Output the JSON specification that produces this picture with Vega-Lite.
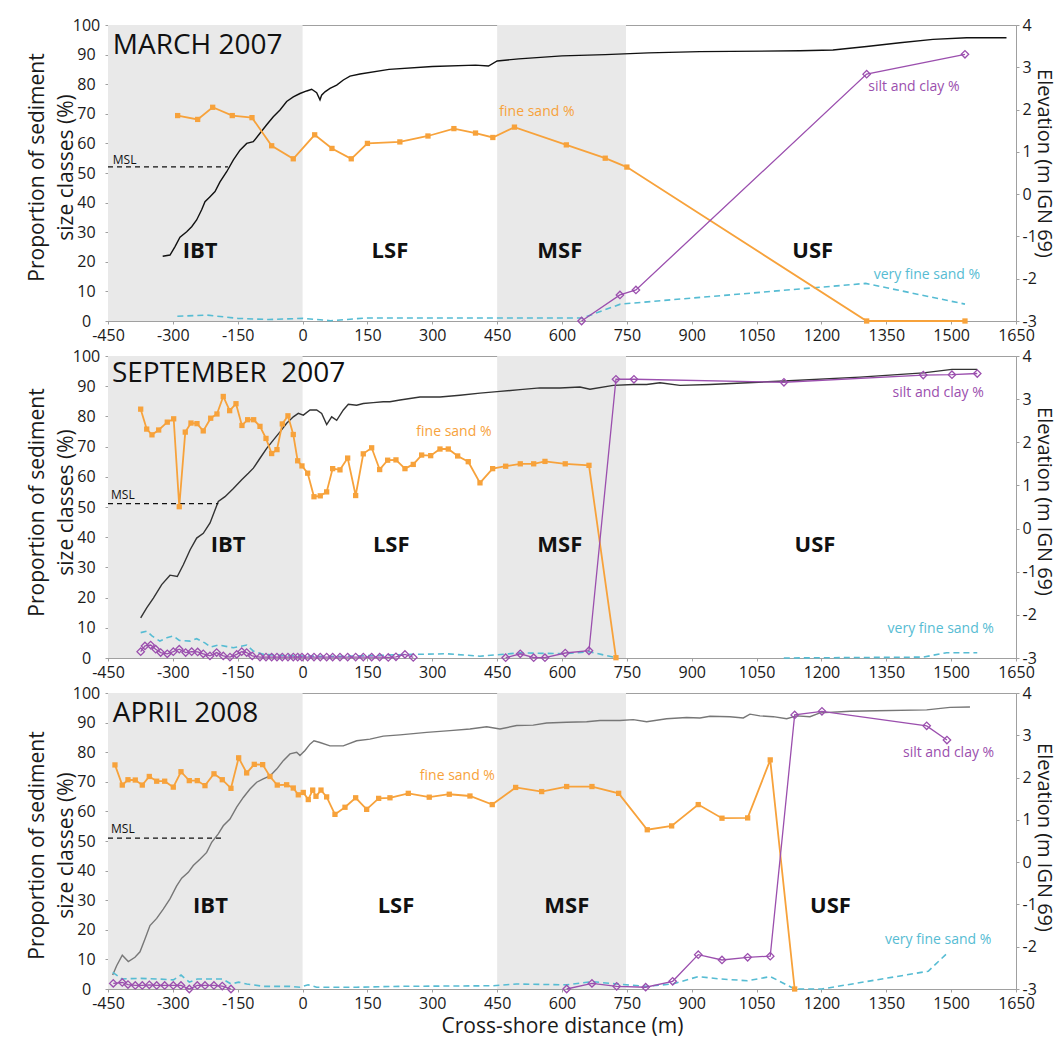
{
"$schema": "https://vega.github.io/schema/vega-lite/v6.json",
"padding": {"left": 25, "top": 16, "right": 0, "bottom": 0},
"bounds": "flush",
"spacing": 35,
"config": {
  "font": "Open Sans",
  "view": {"stroke": "#a0a0a0", "strokeWidth": 1},
  "axis": {"labelFont": "Open Sans", "labelFontSize": 16, "labelColor": "#1a1a1a", "titleFont": "Open Sans", "titleFontSize": 21, "titleFontWeight": "normal", "titleColor": "#1a1a1a", "domainColor": "#a0a0a0", "tickColor": "#a0a0a0", "tickSize": 3, "grid": false},
  "text": {"font": "Open Sans"}
},
"datasets": {
  "zones": [{"x": -450, "x2": 0}, {"x": 450, "x2": 748}],
  "msl": [
    {"p": "m", "x": -450, "x2": -172.6, "v": 52.1},
    {"p": "s", "x": -450, "x2": -195, "v": 51.1},
    {"p": "a", "x": -450, "x2": -187, "v": 51.0}
  ],
  "txt": [
    {"p": "m", "k": "date", "x": -439, "v": 93, "t": "MARCH 2007"},
    {"p": "m", "k": "zone", "x": -237, "v": 23.6, "t": "IBT"},
    {"p": "m", "k": "zone", "x": 202, "v": 23.6, "t": "LSF"},
    {"p": "m", "k": "zone", "x": 595, "v": 23.6, "t": "MSF"},
    {"p": "m", "k": "zone", "x": 1180, "v": 23.6, "t": "USF"},
    {"p": "m", "k": "fine", "x": 542, "v": 70.6, "t": "fine sand %"},
    {"p": "m", "k": "silt", "x": 1414, "v": 79.2, "t": "silt and clay %"},
    {"p": "m", "k": "vfine", "x": 1444, "v": 15.5, "t": "very fine sand %"},
    {"p": "m", "k": "msl", "x": -439, "v": 54.5, "t": "MSL"},
    {"p": "s", "k": "date", "x": -441, "v": 93.9, "t": "SEPTEMBER\u00a0 2007"},
    {"p": "s", "k": "zone", "x": -172, "v": 37.3, "t": "IBT"},
    {"p": "s", "k": "zone", "x": 205, "v": 37.3, "t": "LSF"},
    {"p": "s", "k": "zone", "x": 595, "v": 37.3, "t": "MSF"},
    {"p": "s", "k": "zone", "x": 1185, "v": 37.3, "t": "USF"},
    {"p": "s", "k": "fine", "x": 350, "v": 74.9, "t": "fine sand %"},
    {"p": "s", "k": "silt", "x": 1470, "v": 87.8, "t": "silt and clay %"},
    {"p": "s", "k": "vfine", "x": 1476, "v": 9.5, "t": "very fine sand %"},
    {"p": "s", "k": "msl", "x": -443, "v": 54, "t": "MSL"},
    {"p": "a", "k": "date", "x": -439, "v": 92.9, "t": "APRIL 2008"},
    {"p": "a", "k": "zone", "x": -213, "v": 27.9, "t": "IBT"},
    {"p": "a", "k": "zone", "x": 216, "v": 27.9, "t": "LSF"},
    {"p": "a", "k": "zone", "x": 611, "v": 27.9, "t": "MSF"},
    {"p": "a", "k": "zone", "x": 1221, "v": 27.9, "t": "USF"},
    {"p": "a", "k": "fine", "x": 358, "v": 72.1, "t": "fine sand %"},
    {"p": "a", "k": "silt", "x": 1494, "v": 79.7, "t": "silt and clay %"},
    {"p": "a", "k": "vfine", "x": 1470, "v": 16.7, "t": "very fine sand %"},
    {"p": "a", "k": "msl", "x": -443, "v": 54, "t": "MSL"}
  ],
  "elev": [
    {"p":"m","x":-323.5,"e":-1.47},{"p":"m","x":-306.6,"e":-1.44},{"p":"m","x":-295,"e":-1.24},{"p":"m","x":-283.5,"e":-1.02},{"p":"m","x":-268,"e":-0.89},{"p":"m","x":-256.5,"e":-0.77},{"p":"m","x":-245,"e":-0.61},{"p":"m","x":-233.4,"e":-0.37},{"p":"m","x":-225.7,"e":-0.18},{"p":"m","x":-214,"e":-0.06},{"p":"m","x":-202.5,"e":0.06},{"p":"m","x":-191,"e":0.29},{"p":"m","x":-175.5,"e":0.53},{"p":"m","x":-160,"e":0.81},{"p":"m","x":-144.7,"e":1.04},{"p":"m","x":-129.2,"e":1.2},{"p":"m","x":-114,"e":1.24},{"p":"m","x":-98.5,"e":1.44},{"p":"m","x":-83,"e":1.64},{"p":"m","x":-67.7,"e":1.83},{"p":"m","x":-52.2,"e":1.99},{"p":"m","x":-36.8,"e":2.19},{"p":"m","x":-21.4,"e":2.3},{"p":"m","x":-6,"e":2.38},{"p":"m","x":9.5,"e":2.44},{"p":"m","x":21,"e":2.48},{"p":"m","x":32.6,"e":2.4},{"p":"m","x":40.3,"e":2.23},{"p":"m","x":44,"e":2.34},{"p":"m","x":51.8,"e":2.42},{"p":"m","x":63.4,"e":2.5},{"p":"m","x":78.9,"e":2.58},{"p":"m","x":94.3,"e":2.7},{"p":"m","x":109.7,"e":2.79},{"p":"m","x":132.8,"e":2.84},{"p":"m","x":200,"e":2.95},{"p":"m","x":300,"e":3.02},{"p":"m","x":400,"e":3.05},{"p":"m","x":430,"e":3.03},{"p":"m","x":450,"e":3.15},{"p":"m","x":500,"e":3.2},{"p":"m","x":600,"e":3.27},{"p":"m","x":700,"e":3.3},{"p":"m","x":800,"e":3.34},{"p":"m","x":919,"e":3.37},{"p":"m","x":1150,"e":3.39},{"p":"m","x":1226.7,"e":3.41},{"p":"m","x":1304.6,"e":3.49},{"p":"m","x":1381.6,"e":3.58},{"p":"m","x":1458,"e":3.66},{"p":"m","x":1536,"e":3.7},{"p":"m","x":1628,"e":3.7},
    {"p":"s","x":-374.4,"e":-2.07},{"p":"s","x":-360.5,"e":-1.84},{"p":"s","x":-345,"e":-1.61},{"p":"s","x":-325.8,"e":-1.3},{"p":"s","x":-306.6,"e":-1.08},{"p":"s","x":-289.7,"e":-1.11},{"p":"s","x":-275.8,"e":-0.84},{"p":"s","x":-260,"e":-0.49},{"p":"s","x":-244.9,"e":-0.22},{"p":"s","x":-229.6,"e":-0.11},{"p":"s","x":-214,"e":0.13},{"p":"s","x":-194.9,"e":0.63},{"p":"s","x":-179.4,"e":0.74},{"p":"s","x":-160,"e":0.93},{"p":"s","x":-140.8,"e":1.13},{"p":"s","x":-125.4,"e":1.28},{"p":"s","x":-113.8,"e":1.4},{"p":"s","x":-98.5,"e":1.63},{"p":"s","x":-83,"e":1.86},{"p":"s","x":-67.7,"e":2.05},{"p":"s","x":-52.2,"e":2.24},{"p":"s","x":-36.8,"e":2.44},{"p":"s","x":-21.4,"e":2.59},{"p":"s","x":-9.8,"e":2.67},{"p":"s","x":1.7,"e":2.63},{"p":"s","x":17.2,"e":2.75},{"p":"s","x":32.6,"e":2.75},{"p":"s","x":44.2,"e":2.67},{"p":"s","x":55.8,"e":2.41},{"p":"s","x":67.3,"e":2.59},{"p":"s","x":78.9,"e":2.51},{"p":"s","x":94.3,"e":2.75},{"p":"s","x":105.8,"e":2.88},{"p":"s","x":125,"e":2.86},{"p":"s","x":140.4,"e":2.9},{"p":"s","x":163.5,"e":2.92},{"p":"s","x":186.6,"e":2.94},{"p":"s","x":202,"e":2.94},{"p":"s","x":225.3,"e":2.98},{"p":"s","x":271.5,"e":3.05},{"p":"s","x":317.8,"e":3.05},{"p":"s","x":364,"e":3.09},{"p":"s","x":410.3,"e":3.14},{"p":"s","x":456.5,"e":3.18},{"p":"s","x":502.8,"e":3.22},{"p":"s","x":549,"e":3.26},{"p":"s","x":595.3,"e":3.26},{"p":"s","x":641.5,"e":3.28},{"p":"s","x":664.7,"e":3.23},{"p":"s","x":718.6,"e":3.32},{"p":"s","x":764.8,"e":3.34},{"p":"s","x":795.8,"e":3.34},{"p":"s","x":826.6,"e":3.38},{"p":"s","x":872.8,"e":3.32},{"p":"s","x":942.2,"e":3.34},{"p":"s","x":1113.3,"e":3.42},{"p":"s","x":1289,"e":3.51},{"p":"s","x":1435.5,"e":3.61},{"p":"s","x":1501.9,"e":3.69},{"p":"s","x":1560.4,"e":3.69},
    {"p":"a","x":-439.2,"e":-2.67},{"p":"a","x":-430,"e":-2.45},{"p":"a","x":-417,"e":-2.2},{"p":"a","x":-403,"e":-2.35},{"p":"a","x":-387.6,"e":-2.25},{"p":"a","x":-376,"e":-2.12},{"p":"a","x":-364.5,"e":-1.82},{"p":"a","x":-352.9,"e":-1.5},{"p":"a","x":-337.4,"e":-1.33},{"p":"a","x":-322.2,"e":-1.11},{"p":"a","x":-306.7,"e":-0.87},{"p":"a","x":-291.2,"e":-0.56},{"p":"a","x":-279.6,"e":-0.38},{"p":"a","x":-264.3,"e":-0.24},{"p":"a","x":-252.8,"e":-0.08},{"p":"a","x":-237.3,"e":0.07},{"p":"a","x":-221.8,"e":0.23},{"p":"a","x":-210.2,"e":0.47},{"p":"a","x":-195,"e":0.67},{"p":"a","x":-183.4,"e":0.86},{"p":"a","x":-167.9,"e":1.02},{"p":"a","x":-152.4,"e":1.3},{"p":"a","x":-137.1,"e":1.53},{"p":"a","x":-121.6,"e":1.73},{"p":"a","x":-106.1,"e":1.89},{"p":"a","x":-90.9,"e":1.97},{"p":"a","x":-75.4,"e":2.04},{"p":"a","x":-59.9,"e":2.2},{"p":"a","x":-44.6,"e":2.4},{"p":"a","x":-29.1,"e":2.56},{"p":"a","x":-13.6,"e":2.6},{"p":"a","x":-6,"e":2.52},{"p":"a","x":5.6,"e":2.64},{"p":"a","x":17.1,"e":2.79},{"p":"a","x":26.4,"e":2.87},{"p":"a","x":40.2,"e":2.83},{"p":"a","x":63.4,"e":2.75},{"p":"a","x":94.1,"e":2.75},{"p":"a","x":125.1,"e":2.87},{"p":"a","x":155.9,"e":2.91},{"p":"a","x":186.7,"e":2.98},{"p":"a","x":225.3,"e":3.01},{"p":"a","x":287,"e":3.07},{"p":"a","x":340.9,"e":3.11},{"p":"a","x":387.1,"e":3.15},{"p":"a","x":425.8,"e":3.2},{"p":"a","x":456.5,"e":3.15},{"p":"a","x":495.2,"e":3.23},{"p":"a","x":533.5,"e":3.24},{"p":"a","x":564.5,"e":3.29},{"p":"a","x":610.8,"e":3.31},{"p":"a","x":657,"e":3.32},{"p":"a","x":687.8,"e":3.35},{"p":"a","x":734,"e":3.35},{"p":"a","x":764.8,"e":3.37},{"p":"a","x":795.8,"e":3.32},{"p":"a","x":842,"e":3.39},{"p":"a","x":888.3,"e":3.42},{"p":"a","x":919,"e":3.41},{"p":"a","x":942.2,"e":3.45},{"p":"a","x":988.4,"e":3.44},{"p":"a","x":1019.3,"e":3.41},{"p":"a","x":1034.7,"e":3.5},{"p":"a","x":1057.8,"e":3.46},{"p":"a","x":1088.6,"e":3.44},{"p":"a","x":1119.6,"e":3.39},{"p":"a","x":1142.7,"e":3.46},{"p":"a","x":1173.5,"e":3.44},{"p":"a","x":1196.6,"e":3.53},{"p":"a","x":1266,"e":3.57},{"p":"a","x":1327.7,"e":3.58},{"p":"a","x":1443.4,"e":3.6},{"p":"a","x":1497.3,"e":3.66},{"p":"a","x":1543.5,"e":3.67}
  ],
  "pct": [
    {"p":"m","s":"fine","g":1,"x":-288.9,"v":69.4},{"p":"m","s":"fine","g":1,"x":-242.6,"v":68.1},{"p":"m","s":"fine","g":1,"x":-207.9,"v":72.2},{"p":"m","s":"fine","g":1,"x":-162.6,"v":69.4},{"p":"m","s":"fine","g":1,"x":-117,"v":68.7},{"p":"m","s":"fine","g":1,"x":-71.5,"v":59.2},{"p":"m","s":"fine","g":1,"x":-21.5,"v":54.8},{"p":"m","s":"fine","g":1,"x":28,"v":62.9},{"p":"m","s":"fine","g":1,"x":68,"v":58.3},{"p":"m","s":"fine","g":1,"x":112.6,"v":54.8},{"p":"m","s":"fine","g":1,"x":150,"v":60},{"p":"m","s":"fine","g":1,"x":225,"v":60.5},{"p":"m","s":"fine","g":1,"x":290,"v":62.5},{"p":"m","s":"fine","g":1,"x":350,"v":65},{"p":"m","s":"fine","g":1,"x":400,"v":63.5},{"p":"m","s":"fine","g":1,"x":440,"v":62},{"p":"m","s":"fine","g":1,"x":490,"v":65.5},{"p":"m","s":"fine","g":1,"x":610,"v":59.5},{"p":"m","s":"fine","g":1,"x":700,"v":55},{"p":"m","s":"fine","g":1,"x":750,"v":52},{"p":"m","s":"fine","g":1,"x":1304.6,"v":0},{"p":"m","s":"fine","g":1,"x":1532,"v":0},
    {"p":"m","s":"silt","g":1,"x":645.3,"v":0},{"p":"m","s":"silt","g":1,"x":734,"v":8.8},{"p":"m","s":"silt","g":1,"x":771,"v":10.5},{"p":"m","s":"silt","g":1,"x":1304.6,"v":83.4},{"p":"m","s":"silt","g":1,"x":1532,"v":90.1},
    {"p":"m","s":"vfine","g":1,"x":-289.6,"v":1.6},{"p":"m","s":"vfine","g":1,"x":-222,"v":2.0},{"p":"m","s":"vfine","g":1,"x":-150,"v":0.9},{"p":"m","s":"vfine","g":1,"x":-78.6,"v":0.5},{"p":"m","s":"vfine","g":1,"x":1,"v":0.9},{"p":"m","s":"vfine","g":1,"x":64.8,"v":0.1},{"p":"m","s":"vfine","g":1,"x":144.4,"v":1.0},{"p":"m","s":"vfine","g":1,"x":335.6,"v":1.0},{"p":"m","s":"vfine","g":1,"x":542.8,"v":1.0},{"p":"m","s":"vfine","g":1,"x":646.8,"v":1.0},{"p":"m","s":"vfine","g":1,"x":735,"v":5.7},{"p":"m","s":"vfine","g":1,"x":1302.3,"v":12.7},{"p":"m","s":"vfine","g":1,"x":1532,"v":5.7},
    {"p":"s","s":"fine","g":1,"x":-374.4,"v":82.4},{"p":"s","s":"fine","g":1,"x":-360.5,"v":75.8},{"p":"s","s":"fine","g":1,"x":-348.3,"v":73.9},{"p":"s","s":"fine","g":1,"x":-332.8,"v":75.5},{"p":"s","s":"fine","g":1,"x":-312.9,"v":78.1},{"p":"s","s":"fine","g":1,"x":-298.1,"v":79.2},{"p":"s","s":"fine","g":1,"x":-285.2,"v":50.1},{"p":"s","s":"fine","g":1,"x":-271.3,"v":74.8},{"p":"s","s":"fine","g":1,"x":-258.1,"v":77.8},{"p":"s","s":"fine","g":1,"x":-244.2,"v":77.6},{"p":"s","s":"fine","g":1,"x":-229.7,"v":75.2},{"p":"s","s":"fine","g":1,"x":-212.5,"v":79.4},{"p":"s","s":"fine","g":1,"x":-198,"v":80.8},{"p":"s","s":"fine","g":1,"x":-183.4,"v":86.6},{"p":"s","s":"fine","g":1,"x":-168.6,"v":81.9},{"p":"s","s":"fine","g":1,"x":-154,"v":84.2},{"p":"s","s":"fine","g":1,"x":-140.2,"v":77.0},{"p":"s","s":"fine","g":1,"x":-127,"v":78.9},{"p":"s","s":"fine","g":1,"x":-113.1,"v":78.9},{"p":"s","s":"fine","g":1,"x":-98.5,"v":76.7},{"p":"s","s":"fine","g":1,"x":-84.6,"v":72.7},{"p":"s","s":"fine","g":1,"x":-71.5,"v":67.7},{"p":"s","s":"fine","g":1,"x":-59.2,"v":69.0},{"p":"s","s":"fine","g":1,"x":-46.9,"v":77.5},{"p":"s","s":"fine","g":1,"x":-33.8,"v":80.2},{"p":"s","s":"fine","g":1,"x":-21.5,"v":74.0},{"p":"s","s":"fine","g":1,"x":-11.3,"v":65.3},{"p":"s","s":"fine","g":1,"x":-1.4,"v":63.6},{"p":"s","s":"fine","g":1,"x":11.8,"v":61.2},{"p":"s","s":"fine","g":1,"x":26.4,"v":53.4},{"p":"s","s":"fine","g":1,"x":40.9,"v":53.7},{"p":"s","s":"fine","g":1,"x":55.7,"v":55.0},{"p":"s","s":"fine","g":1,"x":69.6,"v":62.7},{"p":"s","s":"fine","g":1,"x":86.5,"v":62.3},{"p":"s","s":"fine","g":1,"x":104.3,"v":66.2},{"p":"s","s":"fine","g":1,"x":122.8,"v":53.8},{"p":"s","s":"fine","g":1,"x":140.4,"v":67.6},{"p":"s","s":"fine","g":1,"x":159.8,"v":69.6},{"p":"s","s":"fine","g":1,"x":178.3,"v":62.4},{"p":"s","s":"fine","g":1,"x":196.8,"v":65.5},{"p":"s","s":"fine","g":1,"x":216,"v":65.6},{"p":"s","s":"fine","g":1,"x":236.8,"v":62.7},{"p":"s","s":"fine","g":1,"x":256,"v":64.1},{"p":"s","s":"fine","g":1,"x":275.4,"v":67.2},{"p":"s","s":"fine","g":1,"x":296.3,"v":67.0},{"p":"s","s":"fine","g":1,"x":317.8,"v":69.2},{"p":"s","s":"fine","g":1,"x":337,"v":69.2},{"p":"s","s":"fine","g":1,"x":358.7,"v":66.9},{"p":"s","s":"fine","g":1,"x":383.2,"v":65.0},{"p":"s","s":"fine","g":1,"x":410.3,"v":58.0},{"p":"s","s":"fine","g":1,"x":439.6,"v":62.7},{"p":"s","s":"fine","g":1,"x":469.7,"v":63.5},{"p":"s","s":"fine","g":1,"x":503.5,"v":64.3},{"p":"s","s":"fine","g":1,"x":534.5,"v":64.3},{"p":"s","s":"fine","g":1,"x":560.6,"v":65.1},{"p":"s","s":"fine","g":1,"x":607.5,"v":64.3},{"p":"s","s":"fine","g":1,"x":662.4,"v":63.8},{"p":"s","s":"fine","g":1,"x":724.8,"v":0.1},
    {"p":"s","s":"silt","g":1,"x":-374.4,"v":2.1},{"p":"s","s":"silt","g":1,"x":-364.5,"v":4.0},{"p":"s","s":"silt","g":1,"x":-351.3,"v":4.3},{"p":"s","s":"silt","g":1,"x":-339.7,"v":2.9},{"p":"s","s":"silt","g":1,"x":-328.2,"v":1.8},{"p":"s","s":"silt","g":1,"x":-312.9,"v":1.4},{"p":"s","s":"silt","g":1,"x":-299,"v":2.1},{"p":"s","s":"silt","g":1,"x":-285.2,"v":2.9},{"p":"s","s":"silt","g":1,"x":-270.4,"v":1.8},{"p":"s","s":"silt","g":1,"x":-256.5,"v":2.1},{"p":"s","s":"silt","g":1,"x":-242.6,"v":2.0},{"p":"s","s":"silt","g":1,"x":-229.7,"v":1.4},{"p":"s","s":"silt","g":1,"x":-214.2,"v":0.7},{"p":"s","s":"silt","g":1,"x":-198.7,"v":1.8},{"p":"s","s":"silt","g":1,"x":-183.4,"v":0.7},{"p":"s","s":"silt","g":1,"x":-167.9,"v":0.3},{"p":"s","s":"silt","g":1,"x":-152.4,"v":1.2},{"p":"s","s":"silt","g":1,"x":-140.8,"v":2.1},{"p":"s","s":"silt","g":1,"x":-129.3,"v":1.8},{"p":"s","s":"silt","g":1,"x":-116.3,"v":0.7},{"p":"s","s":"silt","g":1,"x":-98.5,"v":0.3},{"p":"s","s":"silt","g":1,"x":-84.6,"v":0.3},{"p":"s","s":"silt","g":1,"x":-71.5,"v":0.3},{"p":"s","s":"silt","g":1,"x":-59.2,"v":0.3},{"p":"s","s":"silt","g":1,"x":-46.9,"v":0.3},{"p":"s","s":"silt","g":1,"x":-33.8,"v":0.3},{"p":"s","s":"silt","g":1,"x":-21.5,"v":0.3},{"p":"s","s":"silt","g":1,"x":-11.3,"v":0.3},{"p":"s","s":"silt","g":1,"x":-1.4,"v":0.3},{"p":"s","s":"silt","g":1,"x":11.8,"v":0.3},{"p":"s","s":"silt","g":1,"x":26.4,"v":0.3},{"p":"s","s":"silt","g":1,"x":40.9,"v":0.3},{"p":"s","s":"silt","g":1,"x":55.7,"v":0.3},{"p":"s","s":"silt","g":1,"x":69.6,"v":0.3},{"p":"s","s":"silt","g":1,"x":86.5,"v":0.3},{"p":"s","s":"silt","g":1,"x":104.3,"v":0.3},{"p":"s","s":"silt","g":1,"x":122.8,"v":0.3},{"p":"s","s":"silt","g":1,"x":140.4,"v":0.3},{"p":"s","s":"silt","g":1,"x":159.8,"v":0.3},{"p":"s","s":"silt","g":1,"x":178.3,"v":0.3},{"p":"s","s":"silt","g":1,"x":198.2,"v":0.2},{"p":"s","s":"silt","g":1,"x":216,"v":0.4},{"p":"s","s":"silt","g":1,"x":236.8,"v":1.2},{"p":"s","s":"silt","g":1,"x":256,"v":0.2},
    {"p":"s","s":"silt","g":2,"x":469.7,"v":0.1},{"p":"s","s":"silt","g":2,"x":503.5,"v":1.4},{"p":"s","s":"silt","g":2,"x":534.5,"v":0.1},{"p":"s","s":"silt","g":2,"x":560.6,"v":0.1},{"p":"s","s":"silt","g":2,"x":607.5,"v":1.65},{"p":"s","s":"silt","g":2,"x":662.4,"v":2.4},{"p":"s","s":"silt","g":2,"x":724.8,"v":92.3},{"p":"s","s":"silt","g":2,"x":766.4,"v":92.3},{"p":"s","s":"silt","g":2,"x":1113.3,"v":91.3},{"p":"s","s":"silt","g":2,"x":1435.5,"v":93.7},{"p":"s","s":"silt","g":2,"x":1501.9,"v":93.8},{"p":"s","s":"silt","g":2,"x":1560.4,"v":94.2},
    {"p":"s","s":"vfine","g":1,"x":-374.4,"v":8.4},{"p":"s","s":"vfine","g":1,"x":-360.5,"v":8.9},{"p":"s","s":"vfine","g":1,"x":-348.3,"v":7.3},{"p":"s","s":"vfine","g":1,"x":-330,"v":5.6},{"p":"s","s":"vfine","g":1,"x":-314,"v":6.7},{"p":"s","s":"vfine","g":1,"x":-299,"v":7.3},{"p":"s","s":"vfine","g":1,"x":-285,"v":5.8},{"p":"s","s":"vfine","g":1,"x":-260,"v":5.6},{"p":"s","s":"vfine","g":1,"x":-245,"v":6.4},{"p":"s","s":"vfine","g":1,"x":-226,"v":5.0},{"p":"s","s":"vfine","g":1,"x":-212.6,"v":3.6},{"p":"s","s":"vfine","g":1,"x":-195,"v":4.3},{"p":"s","s":"vfine","g":1,"x":-160,"v":3.4},{"p":"s","s":"vfine","g":1,"x":-129,"v":4.3},{"p":"s","s":"vfine","g":1,"x":-114,"v":2.3},{"p":"s","s":"vfine","g":1,"x":-91,"v":1.2},{"p":"s","s":"vfine","g":1,"x":-40,"v":0.8},{"p":"s","s":"vfine","g":1,"x":30,"v":0.6},{"p":"s","s":"vfine","g":1,"x":100,"v":0.6},{"p":"s","s":"vfine","g":1,"x":180,"v":0.9},{"p":"s","s":"vfine","g":1,"x":255,"v":1.2},{"p":"s","s":"vfine","g":1,"x":333,"v":1.4},{"p":"s","s":"vfine","g":1,"x":410,"v":0.6},{"p":"s","s":"vfine","g":1,"x":503,"v":1.7},{"p":"s","s":"vfine","g":1,"x":607,"v":1.4},{"p":"s","s":"vfine","g":1,"x":662,"v":2.1},{"p":"s","s":"vfine","g":1,"x":725,"v":0.1},
    {"p":"s","s":"vfine","g":2,"x":1113,"v":0},{"p":"s","s":"vfine","g":2,"x":1435.5,"v":0.3},{"p":"s","s":"vfine","g":2,"x":1489.6,"v":1.75},{"p":"s","s":"vfine","g":2,"x":1560.4,"v":1.75},
    {"p":"a","s":"fine","g":1,"x":-433.9,"v":75.7},{"p":"a","s":"fine","g":1,"x":-417,"v":68.9},{"p":"a","s":"fine","g":1,"x":-403.8,"v":70.7},{"p":"a","s":"fine","g":1,"x":-386.9,"v":70.6},{"p":"a","s":"fine","g":1,"x":-370.7,"v":68.9},{"p":"a","s":"fine","g":1,"x":-354.5,"v":71.8},{"p":"a","s":"fine","g":1,"x":-337.4,"v":70.2},{"p":"a","s":"fine","g":1,"x":-318.9,"v":70.2},{"p":"a","s":"fine","g":1,"x":-299,"v":68.2},{"p":"a","s":"fine","g":1,"x":-281.2,"v":73.4},{"p":"a","s":"fine","g":1,"x":-262,"v":70.4},{"p":"a","s":"fine","g":1,"x":-243.5,"v":70.4},{"p":"a","s":"fine","g":1,"x":-225.7,"v":68.7},{"p":"a","s":"fine","g":1,"x":-204.9,"v":72.7},{"p":"a","s":"fine","g":1,"x":-185.7,"v":70.7},{"p":"a","s":"fine","g":1,"x":-165.6,"v":67.8},{"p":"a","s":"fine","g":1,"x":-147.8,"v":78.1},{"p":"a","s":"fine","g":1,"x":-129.3,"v":73.0},{"p":"a","s":"fine","g":1,"x":-111.7,"v":75.9},{"p":"a","s":"fine","g":1,"x":-92.3,"v":75.8},{"p":"a","s":"fine","g":1,"x":-75.4,"v":71.8},{"p":"a","s":"fine","g":1,"x":-58.5,"v":68.9},{"p":"a","s":"fine","g":1,"x":-36.8,"v":69.0},{"p":"a","s":"fine","g":1,"x":-21.5,"v":67.9},{"p":"a","s":"fine","g":1,"x":-9.9,"v":65.6},{"p":"a","s":"fine","g":1,"x":1.6,"v":66.4},{"p":"a","s":"fine","g":1,"x":13.2,"v":64.0},{"p":"a","s":"fine","g":1,"x":23.4,"v":67.2},{"p":"a","s":"fine","g":1,"x":31,"v":65.1},{"p":"a","s":"fine","g":1,"x":42.6,"v":67.2},{"p":"a","s":"fine","g":1,"x":55.7,"v":64.9},{"p":"a","s":"fine","g":1,"x":74.9,"v":59.0},{"p":"a","s":"fine","g":1,"x":98.1,"v":61.4},{"p":"a","s":"fine","g":1,"x":122.8,"v":64.6},{"p":"a","s":"fine","g":1,"x":148.2,"v":60.7},{"p":"a","s":"fine","g":1,"x":176,"v":64.4},{"p":"a","s":"fine","g":1,"x":202.1,"v":64.6},{"p":"a","s":"fine","g":1,"x":244.5,"v":66.1},{"p":"a","s":"fine","g":1,"x":293,"v":64.8},{"p":"a","s":"fine","g":1,"x":339.3,"v":65.8},{"p":"a","s":"fine","g":1,"x":387.1,"v":65.2},{"p":"a","s":"fine","g":1,"x":438.7,"v":62.3},{"p":"a","s":"fine","g":1,"x":492.8,"v":68.1},{"p":"a","s":"fine","g":1,"x":553,"v":66.7},{"p":"a","s":"fine","g":1,"x":610.8,"v":68.4},{"p":"a","s":"fine","g":1,"x":669.3,"v":68.4},{"p":"a","s":"fine","g":1,"x":731,"v":66.1},{"p":"a","s":"fine","g":1,"x":797.2,"v":53.8},{"p":"a","s":"fine","g":1,"x":853.6,"v":55.1},{"p":"a","s":"fine","g":1,"x":915.1,"v":62.3},{"p":"a","s":"fine","g":1,"x":970,"v":57.7},{"p":"a","s":"fine","g":1,"x":1029.4,"v":57.8},{"p":"a","s":"fine","g":1,"x":1081.6,"v":77.4},{"p":"a","s":"fine","g":1,"x":1138.1,"v":0},
    {"p":"a","s":"silt","g":1,"x":-437.8,"v":1.9},{"p":"a","s":"silt","g":1,"x":-417,"v":2.2},{"p":"a","s":"silt","g":1,"x":-403.8,"v":1.5},{"p":"a","s":"silt","g":1,"x":-386.9,"v":1.2},{"p":"a","s":"silt","g":1,"x":-370.7,"v":1.2},{"p":"a","s":"silt","g":1,"x":-354.5,"v":1.4},{"p":"a","s":"silt","g":1,"x":-337.4,"v":1.2},{"p":"a","s":"silt","g":1,"x":-318.9,"v":1.2},{"p":"a","s":"silt","g":1,"x":-299,"v":1.2},{"p":"a","s":"silt","g":1,"x":-281.2,"v":1.2},{"p":"a","s":"silt","g":1,"x":-262,"v":0},{"p":"a","s":"silt","g":1,"x":-243.5,"v":1.2},{"p":"a","s":"silt","g":1,"x":-225.7,"v":1.2},{"p":"a","s":"silt","g":1,"x":-205,"v":1.2},{"p":"a","s":"silt","g":1,"x":-185.7,"v":1.0},{"p":"a","s":"silt","g":1,"x":-165.6,"v":0},
    {"p":"a","s":"silt","g":2,"x":610.8,"v":0},{"p":"a","s":"silt","g":2,"x":669.3,"v":1.9},{"p":"a","s":"silt","g":2,"x":726.4,"v":0.9},{"p":"a","s":"silt","g":2,"x":793.5,"v":0.6},{"p":"a","s":"silt","g":2,"x":855.9,"v":2.6},{"p":"a","s":"silt","g":2,"x":915.1,"v":11.6},{"p":"a","s":"silt","g":2,"x":970,"v":9.8},{"p":"a","s":"silt","g":2,"x":1029.4,"v":10.7},{"p":"a","s":"silt","g":2,"x":1081.6,"v":11.1},{"p":"a","s":"silt","g":2,"x":1138.1,"v":92.6},{"p":"a","s":"silt","g":2,"x":1201.2,"v":93.8},{"p":"a","s":"silt","g":2,"x":1443.4,"v":88.9},{"p":"a","s":"silt","g":2,"x":1490.3,"v":84.1},
    {"p":"a","s":"vfine","g":1,"x":-439,"v":5.6},{"p":"a","s":"vfine","g":1,"x":-418,"v":3.4},{"p":"a","s":"vfine","g":1,"x":-376,"v":3.6},{"p":"a","s":"vfine","g":1,"x":-337,"v":3.4},{"p":"a","s":"vfine","g":1,"x":-299,"v":3.1},{"p":"a","s":"vfine","g":1,"x":-281,"v":4.7},{"p":"a","s":"vfine","g":1,"x":-262,"v":2.3},{"p":"a","s":"vfine","g":1,"x":-243.5,"v":3.4},{"p":"a","s":"vfine","g":1,"x":-185.7,"v":3.4},{"p":"a","s":"vfine","g":1,"x":-165.6,"v":1.7},{"p":"a","s":"vfine","g":1,"x":-147.8,"v":2.3},{"p":"a","s":"vfine","g":1,"x":-129,"v":1.7},{"p":"a","s":"vfine","g":1,"x":-91,"v":0.9},{"p":"a","s":"vfine","g":1,"x":-29,"v":0.9},{"p":"a","s":"vfine","g":1,"x":-6,"v":0.6},{"p":"a","s":"vfine","g":1,"x":13,"v":1.4},{"p":"a","s":"vfine","g":1,"x":32.6,"v":0.6},{"p":"a","s":"vfine","g":1,"x":125,"v":0.6},{"p":"a","s":"vfine","g":1,"x":225,"v":0.9},{"p":"a","s":"vfine","g":1,"x":441,"v":1.1},{"p":"a","s":"vfine","g":1,"x":495,"v":1.7},{"p":"a","s":"vfine","g":1,"x":611,"v":1.4},{"p":"a","s":"vfine","g":1,"x":669,"v":2.5},{"p":"a","s":"vfine","g":1,"x":726,"v":1.7},{"p":"a","s":"vfine","g":1,"x":796,"v":0.9},{"p":"a","s":"vfine","g":1,"x":856,"v":1.7},{"p":"a","s":"vfine","g":1,"x":915,"v":4.2},{"p":"a","s":"vfine","g":1,"x":965,"v":3.4},{"p":"a","s":"vfine","g":1,"x":1029,"v":2.8},{"p":"a","s":"vfine","g":1,"x":1082,"v":4.2},{"p":"a","s":"vfine","g":1,"x":1138,"v":0},{"p":"a","s":"vfine","g":1,"x":1201,"v":0},{"p":"a","s":"vfine","g":1,"x":1447,"v":6.0},{"p":"a","s":"vfine","g":1,"x":1493,"v":12.4}
  ]
},
"vconcat": [
  {
    "width": 908, "height": 296,
    "encoding": {"x": {"field": "x", "type": "quantitative", "scale": {"domain": [-450, 1650], "nice": false, "zero": false}, "axis": {"values": [-450,-300,-150,0,150,300,450,600,750,900,1050,1200,1350,1500,1650], "labelExpr": "datum.value < 0 ? '-' + abs(datum.value) : '' + datum.value", "title": null, "labelPadding": 3, "labelDx": 5, "labelFlush": false, "labelOverlap": false}}},
    "layer": [
      {"data": {"name": "zones"}, "mark": {"type": "rect", "color": "#e9e9e9"}, "encoding": {"x2": {"field": "x2"}}},
      {"data": {"name": "elev"}, "transform": [{"filter": "datum.p === 'm'"}], "mark": {"type": "line", "color": "#111111", "strokeWidth": 1.4},
       "encoding": {"y": {"field": "e", "type": "quantitative", "scale": {"domain": [-3, 4], "nice": false, "zero": false}, "axis": {"orient": "right", "values": [-3,-2,-1,0,1,2,3,4], "labelExpr": "datum.value < 0 ? '-' + abs(datum.value) : '' + datum.value", "title": "Elevation (m IGN 69)", "titleFontSize": 20, "labelPadding": 3, "labelFlush": false, "labelOverlap": false, "titleX": 17, "titleY": 138, "titleAngle": 90, "titleBaseline": "bottom", "titleAlign": "center"}}}},
      {"encoding": {"y": {"field": "v", "type": "quantitative", "scale": {"domain": [0, 100], "nice": false, "zero": false}, "axis": {"orient": "left", "values": [0,10,20,30,40,50,60,70,80,90,100], "title": ["Proportion of sediment", "size classes (%)"], "labelAlign": "center", "labelPadding": 19, "labelFlush": false, "labelOverlap": false, "titleX": -61, "titleY": 142, "titleLineHeight": 29, "titleAngle": 270, "titleBaseline": "bottom", "titleAlign": "center"}}},
       "layer": [
        {"data": {"name": "msl"}, "transform": [{"filter": "datum.p === 'm'"}], "mark": {"type": "rule", "color": "#111111", "strokeWidth": 1.3, "strokeDash": [5, 4]}, "encoding": {"x2": {"field": "x2"}}},
        {"data": {"name": "pct"}, "transform": [{"filter": "datum.p === 'm' && datum.s === 'vfine'"}], "mark": {"type": "line", "color": "#56BCD3", "strokeWidth": 1.6, "strokeDash": [6, 4]}, "encoding": {"detail": {"field": "g"}}},
        {"data": {"name": "pct"}, "transform": [{"filter": "datum.p === 'm' && datum.s === 'fine'"}], "mark": {"type": "line", "color": "#F7A23B", "strokeWidth": 1.8}, "encoding": {"detail": {"field": "g"}}},
        {"data": {"name": "pct"}, "transform": [{"filter": "datum.p === 'm' && datum.s === 'fine'"}], "mark": {"type": "point", "shape": "square", "filled": true, "color": "#F7A23B", "size": 28, "opacity": 1}, "encoding": {}},
        {"data": {"name": "pct"}, "transform": [{"filter": "datum.p === 'm' && datum.s === 'silt'"}], "mark": {"type": "line", "color": "#9B4FAE", "strokeWidth": 1.3}, "encoding": {"detail": {"field": "g"}}},
        {"data": {"name": "pct"}, "transform": [{"filter": "datum.p === 'm' && datum.s === 'silt'"}], "mark": {"type": "point", "shape": "diamond", "filled": false, "color": "#9B4FAE", "size": 55, "strokeWidth": 1.3, "opacity": 1}, "encoding": {}},
        {"data": {"name": "txt"}, "transform": [{"filter": "datum.p === 'm' && datum.k === 'date'"}], "mark": {"type": "text", "align": "left", "baseline": "middle", "fontSize": 28, "color": "#111111"}, "encoding": {"text": {"field": "t"}}},
        {"data": {"name": "txt"}, "transform": [{"filter": "datum.p === 'm' && datum.k === 'zone'"}], "mark": {"type": "text", "align": "center", "baseline": "middle", "fontSize": 22, "fontWeight": "bold", "color": "#111111"}, "encoding": {"text": {"field": "t"}}},
        {"data": {"name": "txt"}, "transform": [{"filter": "datum.p === 'm' && datum.k === 'msl'"}], "mark": {"type": "text", "align": "left", "baseline": "middle", "fontSize": 12, "color": "#111111"}, "encoding": {"text": {"field": "t"}}},
        {"data": {"name": "txt"}, "transform": [{"filter": "datum.p === 'm' && (datum.k === 'fine' || datum.k === 'silt' || datum.k === 'vfine')"}], "mark": {"type": "text", "align": "center", "baseline": "middle", "fontSize": 14}, "encoding": {"text": {"field": "t"}, "color": {"field": "k", "type": "nominal", "scale": {"domain": ["fine", "silt", "vfine"], "range": ["#F7A23B", "#9B4FAE", "#56BCD3"]}, "legend": null}}}
       ]}
    ],
    "resolve": {"scale": {"y": "independent"}}
  },
  {
    "width": 908, "height": 302,
    "encoding": {"x": {"field": "x", "type": "quantitative", "scale": {"domain": [-450, 1650], "nice": false, "zero": false}, "axis": {"values": [-450,-300,-150,0,150,300,450,600,750,900,1050,1200,1350,1500,1650], "labelExpr": "datum.value < 0 ? '-' + abs(datum.value) : '' + datum.value", "title": null, "labelPadding": 3, "labelDx": 5, "labelFlush": false, "labelOverlap": false}}},
    "layer": [
      {"data": {"name": "zones"}, "mark": {"type": "rect", "color": "#e9e9e9"}, "encoding": {"x2": {"field": "x2"}}},
      {"data": {"name": "elev"}, "transform": [{"filter": "datum.p === 's'"}], "mark": {"type": "line", "color": "#333333", "strokeWidth": 1.4},
       "encoding": {"y": {"field": "e", "type": "quantitative", "scale": {"domain": [-3, 4], "nice": false, "zero": false}, "axis": {"orient": "right", "values": [-3,-2,-1,0,1,2,3,4], "labelExpr": "datum.value < 0 ? '-' + abs(datum.value) : '' + datum.value", "title": "Elevation (m IGN 69)", "titleFontSize": 20, "labelPadding": 3, "labelFlush": false, "labelOverlap": false, "titleX": 17, "titleY": 145, "titleAngle": 90, "titleBaseline": "bottom", "titleAlign": "center"}}}},
      {"encoding": {"y": {"field": "v", "type": "quantitative", "scale": {"domain": [0, 100], "nice": false, "zero": false}, "axis": {"orient": "left", "values": [0,10,20,30,40,50,60,70,80,90,100], "title": ["Proportion of sediment", "size classes (%)"], "labelAlign": "center", "labelPadding": 19, "labelFlush": false, "labelOverlap": false, "titleX": -61, "titleY": 146, "titleLineHeight": 29, "titleAngle": 270, "titleBaseline": "bottom", "titleAlign": "center"}}},
       "layer": [
        {"data": {"name": "msl"}, "transform": [{"filter": "datum.p === 's'"}], "mark": {"type": "rule", "color": "#111111", "strokeWidth": 1.3, "strokeDash": [5, 4]}, "encoding": {"x2": {"field": "x2"}}},
        {"data": {"name": "pct"}, "transform": [{"filter": "datum.p === 's' && datum.s === 'vfine'"}], "mark": {"type": "line", "color": "#56BCD3", "strokeWidth": 1.6, "strokeDash": [6, 4]}, "encoding": {"detail": {"field": "g"}}},
        {"data": {"name": "pct"}, "transform": [{"filter": "datum.p === 's' && datum.s === 'fine'"}], "mark": {"type": "line", "color": "#F7A23B", "strokeWidth": 1.8}, "encoding": {"detail": {"field": "g"}}},
        {"data": {"name": "pct"}, "transform": [{"filter": "datum.p === 's' && datum.s === 'fine'"}], "mark": {"type": "point", "shape": "square", "filled": true, "color": "#F7A23B", "size": 28, "opacity": 1}, "encoding": {}},
        {"data": {"name": "pct"}, "transform": [{"filter": "datum.p === 's' && datum.s === 'silt'"}], "mark": {"type": "line", "color": "#9B4FAE", "strokeWidth": 1.3}, "encoding": {"detail": {"field": "g"}}},
        {"data": {"name": "pct"}, "transform": [{"filter": "datum.p === 's' && datum.s === 'silt'"}], "mark": {"type": "point", "shape": "diamond", "filled": false, "color": "#9B4FAE", "size": 55, "strokeWidth": 1.3, "opacity": 1}, "encoding": {}},
        {"data": {"name": "txt"}, "transform": [{"filter": "datum.p === 's' && datum.k === 'date'"}], "mark": {"type": "text", "align": "left", "baseline": "middle", "fontSize": 28, "color": "#111111"}, "encoding": {"text": {"field": "t"}}},
        {"data": {"name": "txt"}, "transform": [{"filter": "datum.p === 's' && datum.k === 'zone'"}], "mark": {"type": "text", "align": "center", "baseline": "middle", "fontSize": 22, "fontWeight": "bold", "color": "#111111"}, "encoding": {"text": {"field": "t"}}},
        {"data": {"name": "txt"}, "transform": [{"filter": "datum.p === 's' && datum.k === 'msl'"}], "mark": {"type": "text", "align": "left", "baseline": "middle", "fontSize": 12, "color": "#111111"}, "encoding": {"text": {"field": "t"}}},
        {"data": {"name": "txt"}, "transform": [{"filter": "datum.p === 's' && (datum.k === 'fine' || datum.k === 'silt' || datum.k === 'vfine')"}], "mark": {"type": "text", "align": "center", "baseline": "middle", "fontSize": 14}, "encoding": {"text": {"field": "t"}, "color": {"field": "k", "type": "nominal", "scale": {"domain": ["fine", "silt", "vfine"], "range": ["#F7A23B", "#9B4FAE", "#56BCD3"]}, "legend": null}}}
       ]}
    ],
    "resolve": {"scale": {"y": "independent"}}
  },
  {
    "width": 908, "height": 296,
    "encoding": {"x": {"field": "x", "type": "quantitative", "scale": {"domain": [-450, 1650], "nice": false, "zero": false}, "axis": {"values": [-450,-300,-150,0,150,300,450,600,750,900,1050,1200,1350,1500,1650], "labelExpr": "datum.value < 0 ? '-' + abs(datum.value) : '' + datum.value", "title": "Cross-shore distance (m)", "titlePadding": 4, "labelPadding": 3, "labelDx": 5, "labelFlush": false, "labelOverlap": false}}},
    "layer": [
      {"data": {"name": "zones"}, "mark": {"type": "rect", "color": "#e9e9e9"}, "encoding": {"x2": {"field": "x2"}}},
      {"data": {"name": "elev"}, "transform": [{"filter": "datum.p === 'a'"}], "mark": {"type": "line", "color": "#777777", "strokeWidth": 1.4},
       "encoding": {"y": {"field": "e", "type": "quantitative", "scale": {"domain": [-3, 4], "nice": false, "zero": false}, "axis": {"orient": "right", "values": [-3,-2,-1,0,1,2,3,4], "labelExpr": "datum.value < 0 ? '-' + abs(datum.value) : '' + datum.value", "title": "Elevation (m IGN 69)", "titleFontSize": 20, "labelPadding": 3, "labelFlush": false, "labelOverlap": false, "titleX": 17, "titleY": 144, "titleAngle": 90, "titleBaseline": "bottom", "titleAlign": "center"}}}},
      {"encoding": {"y": {"field": "v", "type": "quantitative", "scale": {"domain": [0, 100], "nice": false, "zero": false}, "axis": {"orient": "left", "values": [0,10,20,30,40,50,60,70,80,90,100], "title": ["Proportion of sediment", "size classes (%)"], "labelAlign": "center", "labelPadding": 19, "labelFlush": false, "labelOverlap": false, "titleX": -61, "titleY": 152, "titleLineHeight": 29, "titleAngle": 270, "titleBaseline": "bottom", "titleAlign": "center"}}},
       "layer": [
        {"data": {"name": "msl"}, "transform": [{"filter": "datum.p === 'a'"}], "mark": {"type": "rule", "color": "#111111", "strokeWidth": 1.3, "strokeDash": [5, 4]}, "encoding": {"x2": {"field": "x2"}}},
        {"data": {"name": "pct"}, "transform": [{"filter": "datum.p === 'a' && datum.s === 'vfine'"}], "mark": {"type": "line", "color": "#56BCD3", "strokeWidth": 1.6, "strokeDash": [6, 4]}, "encoding": {"detail": {"field": "g"}}},
        {"data": {"name": "pct"}, "transform": [{"filter": "datum.p === 'a' && datum.s === 'fine'"}], "mark": {"type": "line", "color": "#F7A23B", "strokeWidth": 1.8}, "encoding": {"detail": {"field": "g"}}},
        {"data": {"name": "pct"}, "transform": [{"filter": "datum.p === 'a' && datum.s === 'fine'"}], "mark": {"type": "point", "shape": "square", "filled": true, "color": "#F7A23B", "size": 28, "opacity": 1}, "encoding": {}},
        {"data": {"name": "pct"}, "transform": [{"filter": "datum.p === 'a' && datum.s === 'silt'"}], "mark": {"type": "line", "color": "#9B4FAE", "strokeWidth": 1.3}, "encoding": {"detail": {"field": "g"}}},
        {"data": {"name": "pct"}, "transform": [{"filter": "datum.p === 'a' && datum.s === 'silt'"}], "mark": {"type": "point", "shape": "diamond", "filled": false, "color": "#9B4FAE", "size": 55, "strokeWidth": 1.3, "opacity": 1}, "encoding": {}},
        {"data": {"name": "txt"}, "transform": [{"filter": "datum.p === 'a' && datum.k === 'date'"}], "mark": {"type": "text", "align": "left", "baseline": "middle", "fontSize": 28, "color": "#111111"}, "encoding": {"text": {"field": "t"}}},
        {"data": {"name": "txt"}, "transform": [{"filter": "datum.p === 'a' && datum.k === 'zone'"}], "mark": {"type": "text", "align": "center", "baseline": "middle", "fontSize": 22, "fontWeight": "bold", "color": "#111111"}, "encoding": {"text": {"field": "t"}}},
        {"data": {"name": "txt"}, "transform": [{"filter": "datum.p === 'a' && datum.k === 'msl'"}], "mark": {"type": "text", "align": "left", "baseline": "middle", "fontSize": 12, "color": "#111111"}, "encoding": {"text": {"field": "t"}}},
        {"data": {"name": "txt"}, "transform": [{"filter": "datum.p === 'a' && (datum.k === 'fine' || datum.k === 'silt' || datum.k === 'vfine')"}], "mark": {"type": "text", "align": "center", "baseline": "middle", "fontSize": 14}, "encoding": {"text": {"field": "t"}, "color": {"field": "k", "type": "nominal", "scale": {"domain": ["fine", "silt", "vfine"], "range": ["#F7A23B", "#9B4FAE", "#56BCD3"]}, "legend": null}}}
       ]}
    ],
    "resolve": {"scale": {"y": "independent"}}
  }
]
}
